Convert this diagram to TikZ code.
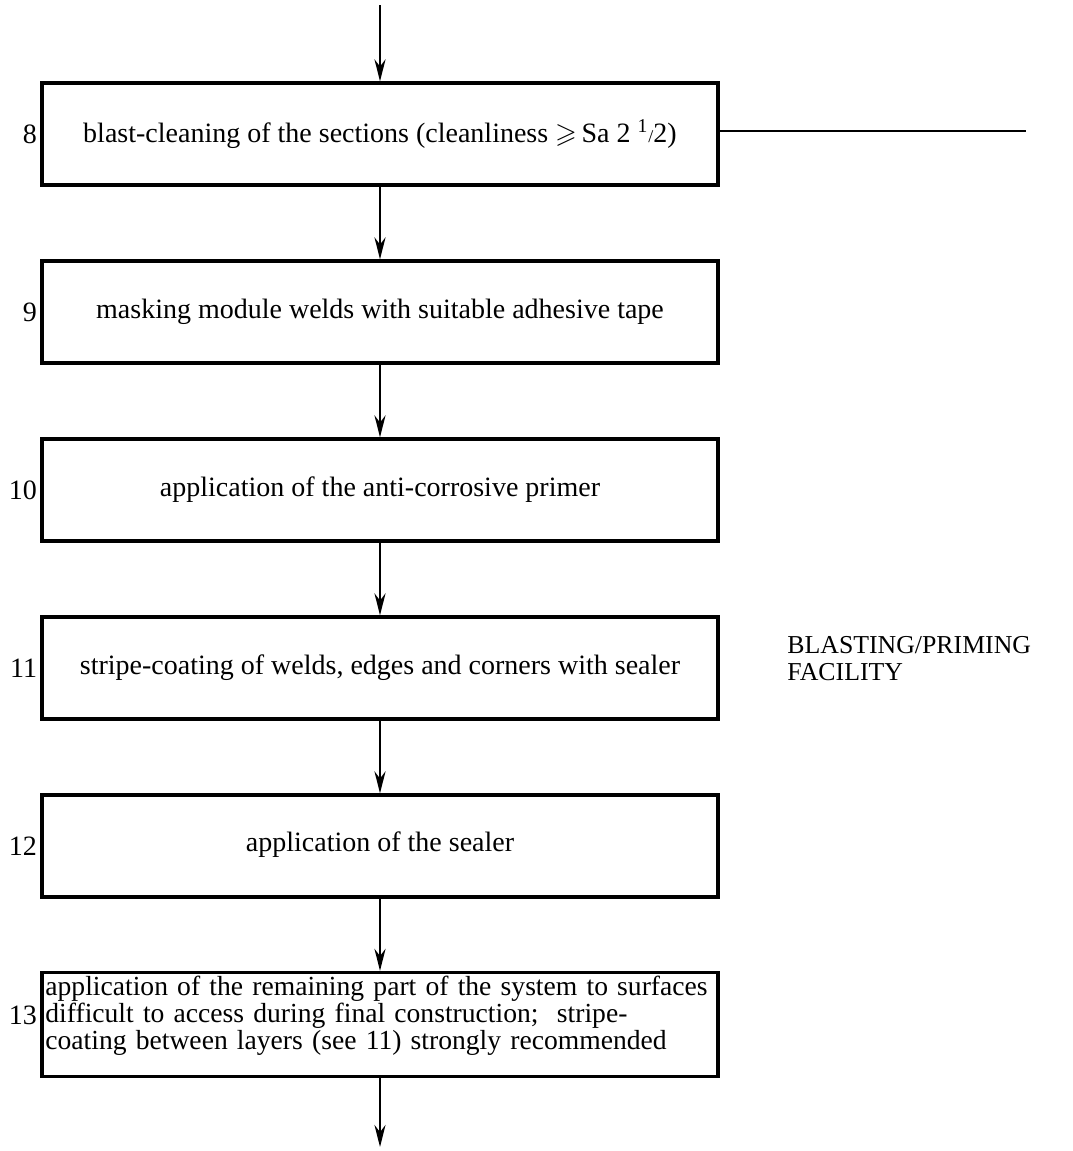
\documentclass[tikz,border=0pt]{standalone}
\usepackage{amssymb}
\usepackage{fontspec}
\setmainfont{Liberation Serif}
\usetikzlibrary{arrows.meta}
\begin{document}
\begin{tikzpicture}[x=0.5pt,y=-0.5pt,
  stepbox/.style={draw,line width=1.6pt,minimum width=338pt,minimum height=51pt,inner sep=1pt,
    font=\fontsize{14}{14}\selectfont},
  num/.style={anchor=east,inner sep=1.5pt,font=\fontsize{14}{14}\selectfont},
  flow/.style={line width=1.3pt,-{Stealth[length=11pt,width=5.5pt]}},
  plain/.style={line width=1.4pt}]
\useasboundingbox (0,0) rectangle (1072,1151);
\coordinate (top) at (380,5);
\coordinate (bot) at (380,1147);
\coordinate (rend) at (1026,131);
\node[stepbox] (b8) at (380,134) {\raisebox{2pt}{blast-cleaning of the sections (cleanliness $\geqslant$\,Sa 2 \textsuperscript{1}{\small/}2)}};
\node[stepbox] (b9) at (380,312) {\raisebox{2pt}{masking module welds with suitable adhesive tape}};
\node[stepbox] (b10) at (380,490) {\raisebox{1pt}{application of the anti-corrosive primer}};
\node[stepbox] (b11) at (380,668) {\raisebox{3pt}{stripe-coating of welds, edges and corners with sealer}};
\node[stepbox] (b12) at (380,846) {\raisebox{4pt}{application of the sealer}};
\node[stepbox,minimum height=52pt] (b13) at (380,1024.5) {};
\node[anchor=north west,align=left,inner sep=0pt,text width=336pt,font=\fontsize{13.8}{13.3}\selectfont] (t13) at (45,976)
  {application of the remaining part of the system to surfaces\\difficult to access during final construction;\ \ stripe-\\coating between layers (see 11) strongly recommended};
\node[num] (n8) at (b8.west) {8};
\node[num] (n9) at (b9.west) {9};
\node[num] (n10) at (b10.west) {10};
\node[num] (n11) at (b11.west) {11};
\node[num] (n12) at (b12.west) {12};
\node[num] (n13) at (b13.west |- t13) {13};
\node[anchor=north west,align=left,inner sep=0pt,font=\fontsize{12.9}{13.5}\selectfont] (fac) at (787,636) {BLASTING/PRIMING\\FACILITY};
\draw[flow] (top) -- (b8.north);
\draw[flow] (b8) -- (b9);
\draw[flow] (b9) -- (b10);
\draw[flow] (b10) -- (b11);
\draw[flow] (b11) -- (b12);
\draw[flow] (b12) -- (b13);
\draw[flow] (b13) -- (bot);
\draw[plain] (b8.east |- rend) -- (rend);
\end{tikzpicture}
\end{document}
